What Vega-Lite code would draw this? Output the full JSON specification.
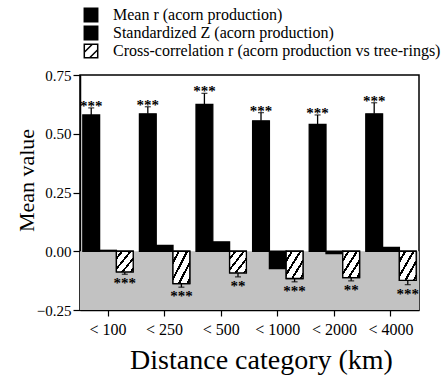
{
  "$schema": "https://vega.github.io/schema/vega-lite/v6.json",
  "autosize": "none",
  "width": 339,
  "height": 235,
  "padding": {"left": 80, "top": 75, "right": 26, "bottom": 69},
  "background": "white",
  "config": {
    "font": "Liberation Serif",
    "view": {"stroke": "black", "strokeWidth": 1.5},
    "axis": {"domainColor": "black", "domainWidth": 1.5, "tickColor": "black", "tickWidth": 1.2, "labelColor": "black", "titleColor": "black", "grid": false, "labelFont": "Liberation Serif", "titleFont": "Liberation Serif", "titleFontWeight": "normal"}
  },
  "datasets": {
    "bars": [
      {"dist": "< 100", "series": "Mean r (acorn production)", "value": 0.58, "err": 0.03, "sig": "***"},
      {"dist": "< 100", "series": "Standardized Z (acorn production)", "value": 0.004, "err": 0, "sig": ""},
      {"dist": "< 100", "series": "Cross-correlation r (acorn production vs tree-rings)", "value": -0.088, "err": 0.01, "sig": "***"},
      {"dist": "< 250", "series": "Mean r (acorn production)", "value": 0.585, "err": 0.03, "sig": "***"},
      {"dist": "< 250", "series": "Standardized Z (acorn production)", "value": 0.025, "err": 0, "sig": ""},
      {"dist": "< 250", "series": "Cross-correlation r (acorn production vs tree-rings)", "value": -0.138, "err": 0.015, "sig": "***"},
      {"dist": "< 500", "series": "Mean r (acorn production)", "value": 0.625, "err": 0.047, "sig": "***"},
      {"dist": "< 500", "series": "Standardized Z (acorn production)", "value": 0.04, "err": 0, "sig": ""},
      {"dist": "< 500", "series": "Cross-correlation r (acorn production vs tree-rings)", "value": -0.092, "err": 0.017, "sig": "**"},
      {"dist": "< 1000", "series": "Mean r (acorn production)", "value": 0.555, "err": 0.035, "sig": "***"},
      {"dist": "< 1000", "series": "Standardized Z (acorn production)", "value": -0.074, "err": 0, "sig": ""},
      {"dist": "< 1000", "series": "Cross-correlation r (acorn production vs tree-rings)", "value": -0.116, "err": 0.014, "sig": "***"},
      {"dist": "< 2000", "series": "Mean r (acorn production)", "value": 0.54, "err": 0.04, "sig": "***"},
      {"dist": "< 2000", "series": "Standardized Z (acorn production)", "value": -0.01, "err": 0, "sig": ""},
      {"dist": "< 2000", "series": "Cross-correlation r (acorn production vs tree-rings)", "value": -0.112, "err": 0.014, "sig": "**"},
      {"dist": "< 4000", "series": "Mean r (acorn production)", "value": 0.585, "err": 0.047, "sig": "***"},
      {"dist": "< 4000", "series": "Standardized Z (acorn production)", "value": 0.016, "err": 0, "sig": ""},
      {"dist": "< 4000", "series": "Cross-correlation r (acorn production vs tree-rings)", "value": -0.124, "err": 0.018, "sig": "***"}
    ],
    "shade": [{"lo": -0.25, "hi": 0}]
  },
  "layer": [
    {
      "data": {"name": "shade"},
      "mark": {"type": "rect", "color": "#c2c2c2"},
      "encoding": {
        "y": {"field": "lo", "type": "quantitative", "scale": {"domain": [-0.25, 0.75], "nice": false, "zero": false}},
        "y2": {"field": "hi"}
      }
    },
    {
      "data": {"name": "bars"},
      "transform": [{"filter": "datum.err > 0"}, {"calculate": "datum.value >= 0 ? datum.value + datum.err : datum.value - datum.err", "as": "tip"}],
      "mark": {"type": "rule", "color": "black", "strokeWidth": 1.3},
      "encoding": {
        "x": {"field": "dist", "type": "nominal", "sort": null},
        "xOffset": {"field": "series", "type": "nominal", "sort": null, "scale": {"domain": ["Mean r (acorn production)", "Standardized Z (acorn production)", "Cross-correlation r (acorn production vs tree-rings)"]}},
        "y": {"field": "value", "type": "quantitative"},
        "y2": {"field": "tip"}
      }
    },
    {
      "data": {"name": "bars"},
      "mark": {"type": "bar", "stroke": "black", "strokeWidth": 1.3},
      "encoding": {
        "x": {
          "field": "dist", "type": "nominal", "sort": null,
          "scale": {"paddingInner": 0.11, "paddingOuter": 0.05},
          "axis": {"title": "Distance category (km)", "labelAngle": 0, "labelAlign": "center", "labelBaseline": "top", "labelFontSize": 16, "titleFontSize": 28, "tickSize": 6, "labelPadding": 5, "titleX": 181, "titleY": 58, "titleBaseline": "alphabetic", "titleAnchor": null, "titleAlign": "center"}
        },
        "xOffset": {"field": "series", "type": "nominal", "sort": null, "scale": {"domain": ["Mean r (acorn production)", "Standardized Z (acorn production)", "Cross-correlation r (acorn production vs tree-rings)"], "paddingInner": 0, "paddingOuter": 0}},
        "y": {
          "field": "value", "type": "quantitative",
          "axis": {"title": "Mean value", "values": [-0.25, 0, 0.25, 0.5, 0.75], "format": ".2f", "labelFontSize": 15, "titleFontSize": 22, "tickSize": 7, "labelPadding": 2, "titleX": -47, "titleY": 105, "titleAngle": -90, "titleBaseline": "alphabetic", "titleAlign": "center", "titleAnchor": null}
        },
        "fill": {
          "field": "series", "type": "nominal", "sort": null,
          "scale": {
            "domain": ["Mean r (acorn production)", "Standardized Z (acorn production)", "Cross-correlation r (acorn production vs tree-rings)"],
            "range": ["black", "black", "white"]
          },
          "legend": {
            "title": null, "orient": "none", "legendX": 3, "legendY": -68, "direction": "vertical", "symbolType": "square", "symbolSize": 180, "symbolStrokeColor": "black", "symbolStrokeWidth": 1.3, "labelFontSize": 16, "labelFont": "Liberation Serif", "labelColor": "black", "labelOffset": 14, "labelLimit": 400, "rowPadding": -3.5, "padding": 0,
            "encode": {
              "symbols": {"update": {
                "stroke": {"value": "black"},
                "strokeWidth": {"value": 1.5},
                "shape": [
                  {"test": "indexof(datum.value, 'Cross') === 0", "value": "M-1,-1H1V1H-1Z M-1,0.2L0.2,-1 M-0.2,1L1,-0.2"},
                  {"value": "square"}
                ]
              }}
            }
          }
        }
      }
    },
    {
      "data": {"name": "bars"},
      "transform": [{"filter": "datum.value < -0.08"}],
      "mark": {"type": "bar", "stroke": "black", "strokeWidth": 1.3, "fill": {"gradient": "linear", "x1": 0, "y1": 0, "x2": 1, "y2": 1, "stops": [
        {"offset": 0, "color": "white"}, {"offset": 0.14, "color": "white"}, {"offset": 0.14, "color": "black"}, {"offset": 0.21, "color": "black"}, {"offset": 0.21, "color": "white"},
        {"offset": 0.39, "color": "white"}, {"offset": 0.39, "color": "black"}, {"offset": 0.46, "color": "black"}, {"offset": 0.46, "color": "white"},
        {"offset": 0.64, "color": "white"}, {"offset": 0.64, "color": "black"}, {"offset": 0.71, "color": "black"}, {"offset": 0.71, "color": "white"},
        {"offset": 0.89, "color": "white"}, {"offset": 0.89, "color": "black"}, {"offset": 0.96, "color": "black"}, {"offset": 0.96, "color": "white"}, {"offset": 1, "color": "white"}
      ]}},
      "encoding": {
        "x": {"field": "dist", "type": "nominal", "sort": null},
        "xOffset": {"field": "series", "type": "nominal", "sort": null},
        "y": {"field": "value", "type": "quantitative"}
      }
    },
    {
      "data": {"name": "bars"},
      "transform": [{"filter": "datum.err > 0"}, {"calculate": "datum.value >= 0 ? datum.value + datum.err : datum.value - datum.err", "as": "tip"}],
      "mark": {"type": "tick", "color": "black", "size": 6, "thickness": 1.3, "orient": "horizontal"},
      "encoding": {
        "x": {"field": "dist", "type": "nominal", "sort": null},
        "xOffset": {"field": "series", "type": "nominal", "sort": null},
        "y": {"field": "tip", "type": "quantitative"}
      }
    },
    {
      "data": {"name": "bars"},
      "transform": [{"filter": "datum.value > 0.1"}, {"calculate": "datum.value + datum.err", "as": "tip"}],
      "mark": {"type": "text", "color": "black", "fontSize": 15, "fontWeight": "bold", "baseline": "alphabetic", "dy": 3},
      "encoding": {
        "x": {"field": "dist", "type": "nominal", "sort": null},
        "xOffset": {"field": "series", "type": "nominal", "sort": null},
        "y": {"field": "tip", "type": "quantitative"},
        "text": {"field": "sig"}
      }
    },
    {
      "data": {"name": "bars"},
      "transform": [{"filter": "datum.value < -0.08"}, {"calculate": "datum.value - datum.err", "as": "tip"}],
      "mark": {"type": "text", "color": "black", "fontSize": 15, "fontWeight": "bold", "baseline": "alphabetic", "dy": 14},
      "encoding": {
        "x": {"field": "dist", "type": "nominal", "sort": null},
        "xOffset": {"field": "series", "type": "nominal", "sort": null},
        "y": {"field": "tip", "type": "quantitative"},
        "text": {"field": "sig"}
      }
    }
  ]
}
